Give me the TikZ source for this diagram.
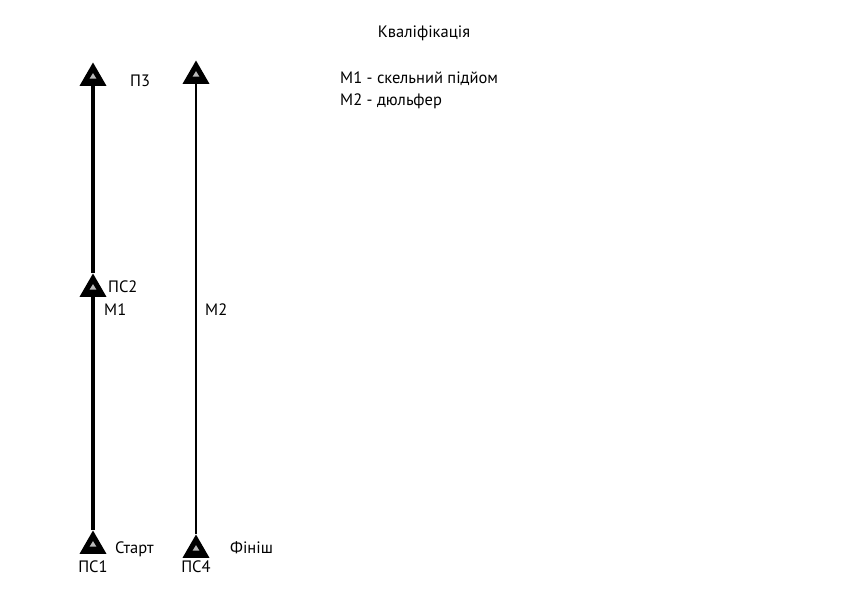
\documentclass[tikz,border=0pt]{standalone}
\usepackage{fontspec}
\setmainfont{PT Sans}
\usetikzlibrary{positioning, shapes.geometric}
\tikzset{
  station/.style={
    regular polygon,
    regular polygon sides=3,
    minimum size=31pt,
    inner sep=0pt,
    fill=black,
    path picture={
      \fill[gray!55] ([yshift=-2pt]path picture bounding box.center)
        ++(0,3pt) -- ++(-3.4pt,-5.5pt) -- ++(6.8pt,0) -- cycle;
    }
  },
  lbl/.style={
    font=\fontsize{16.5}{19}\selectfont,
    inner sep=0pt
  }
}

\begin{document}
\begin{tikzpicture}[x=1pt, y=-1pt]
  \useasboundingbox (0,0) rectangle (850,595);

  \node[lbl] (title) at (424,33) {Кваліфікація};
  \node[lbl, anchor=west] (legend1) at (340,79) {М1 - скельний підйом};
  \node[lbl, anchor=west] (legend2) at (340,101) {М2 - дюльфер};

  % Пункти
  \node[station] (ps1) at (93,546) {};
  \node[station] (ps2) at (93,289) {};
  \node[station] (p3) at (93,78) {};
  \node[station] (ps4) at (196,550) {};
  \node[station] (top4) at (196,76) {};

  % Мотузки
  \draw[line width=3.6pt] (ps1) -- (ps2);
  \draw[line width=3.6pt] (ps2) -- (p3);
  \draw[line width=1.6pt] (ps4) -- (top4);

  % Підписи
  \node[lbl, anchor=west] (p3lbl) at (130,81) {П3};
  \node[lbl, anchor=west] (ps2lbl) at (108,287) {ПС2};
  \node[lbl, anchor=west] (m1lbl) at (104,310) {М1};
  \node[lbl, anchor=west] (m2lbl) at (205,310) {М2};
  \node[lbl, anchor=west] (start) at (115,549) {Старт};
  \node[lbl, anchor=west] (finish) at (230,548) {Фініш};
  \node[lbl] (ps1lbl) at (93,567) {ПС1};
  \node[lbl] (ps4lbl) at (196,567) {ПС4};
\end{tikzpicture}
\end{document}
